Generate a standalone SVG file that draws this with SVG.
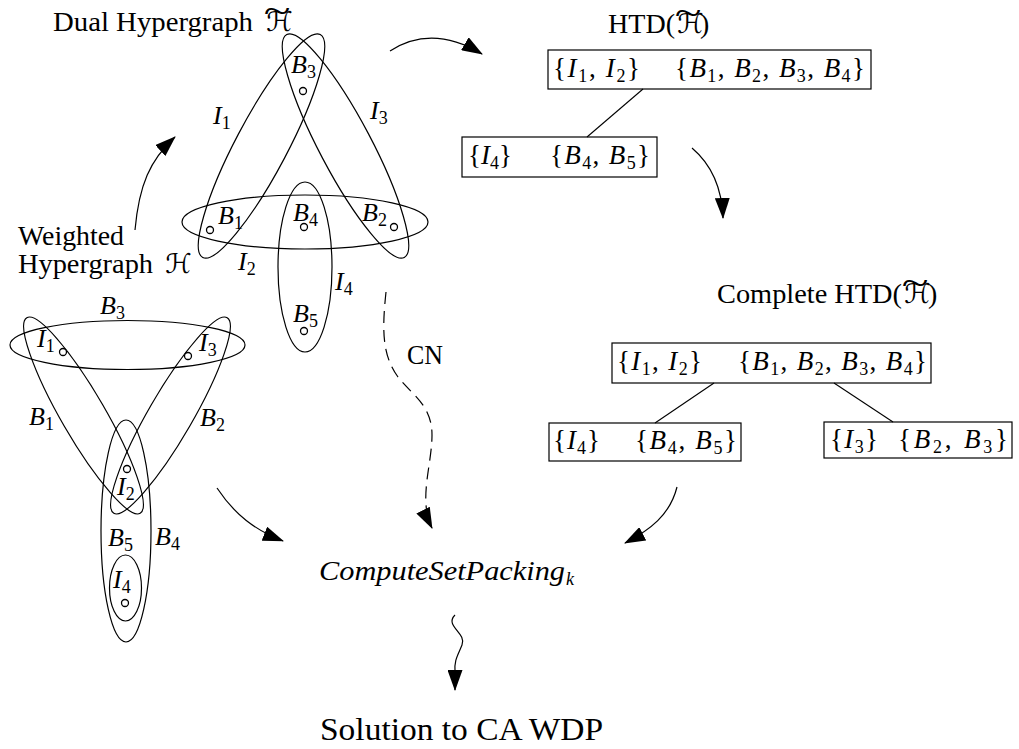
<svg xmlns="http://www.w3.org/2000/svg" xmlns:xlink="http://www.w3.org/1999/xlink" width="1019" height="749" viewBox="0 0 1019 749">
<style>
.e{fill:none;stroke:#000;stroke-width:1.2}
.t{font-family:"Liberation Serif",serif;font-size:26px;fill:#000}
.r{font-size:28px}
.b{font-size:27px}
.i{font-style:italic}
.s{font-size:18px;font-style:normal}
.cal{font-family:"DejaVu Sans",serif;font-size:27px}
.dot{fill:#fff;stroke:#000;stroke-width:1.3}
.box{fill:#fff;stroke:#000;stroke-width:1.2}
.c{fill:none;stroke:#000;stroke-width:1.2}
.dash{stroke-dasharray:12 7}
.tree{stroke:#000;stroke-width:1.1}
</style>
<defs>
<marker id="ah" markerUnits="userSpaceOnUse" markerWidth="21" markerHeight="15" viewBox="0 0 21 15" refX="20" refY="7.5" orient="auto">
<path d="M0,0 L21,7.5 L0,15 z" fill="#000"/>
</marker>
<g id="Ht">
<text class="cal" x="0" y="0">ℋ</text>
<text class="t" transform="translate(11,-8) scale(1.9,1.4)" text-anchor="middle">~</text>
</g>
</defs>

<g id="dual">
<text class="t r" x="53" y="31" textLength="200" lengthAdjust="spacingAndGlyphs">Dual Hypergraph</text>
<use xlink:href="#Ht" x="266" y="31"/>
<ellipse class="e" cx="261.5" cy="146" rx="126" ry="26" transform="rotate(-62.2 261.5 146)"/>
<ellipse class="e" cx="345.5" cy="146" rx="126" ry="26" transform="rotate(62.2 345.5 146)"/>
<ellipse class="e" cx="305" cy="222" rx="123" ry="27"/>
<ellipse class="e" cx="305" cy="267" rx="27" ry="85"/>
<text class="t" x="213" y="124"><tspan class="i">I</tspan><tspan class="s" dy="5">1</tspan></text>
<text class="t" x="370" y="119"><tspan class="i">I</tspan><tspan class="s" dy="5">3</tspan></text>
<text class="t" x="238" y="270"><tspan class="i">I</tspan><tspan class="s" dy="5">2</tspan></text>
<text class="t" x="335" y="290"><tspan class="i">I</tspan><tspan class="s" dy="5">4</tspan></text>
<text class="t" x="291" y="73"><tspan class="i">B</tspan><tspan class="s" dy="5">3</tspan></text>
<text class="t" x="218" y="224"><tspan class="i">B</tspan><tspan class="s" dy="5">1</tspan></text>
<text class="t" x="293" y="221"><tspan class="i">B</tspan><tspan class="s" dy="5">4</tspan></text>
<text class="t" x="362" y="221"><tspan class="i">B</tspan><tspan class="s" dy="5">2</tspan></text>
<text class="t" x="293" y="322"><tspan class="i">B</tspan><tspan class="s" dy="5">5</tspan></text>
<circle class="dot" cx="303" cy="91" r="3.5"/>
<circle class="dot" cx="210" cy="230" r="3.5"/>
<circle class="dot" cx="304" cy="227" r="3.5"/>
<circle class="dot" cx="394" cy="227" r="3.5"/>
<circle class="dot" cx="304" cy="331" r="3.5"/>
</g>

<g id="weighted">
<text class="t r" x="18" y="245" textLength="106" lengthAdjust="spacingAndGlyphs">Weighted</text>
<text class="t r" x="18" y="273" textLength="135" lengthAdjust="spacingAndGlyphs">Hypergraph</text>
<text class="cal" x="165" y="273">ℋ</text>
<ellipse class="e" cx="127.5" cy="345" rx="117.5" ry="24.5"/>
<ellipse class="e" cx="83.5" cy="415.5" rx="113" ry="22" transform="rotate(59.9 83.5 415.5)"/>
<ellipse class="e" cx="170.5" cy="415.5" rx="113" ry="22" transform="rotate(-59.9 170.5 415.5)"/>
<ellipse class="e" cx="126" cy="531" rx="25" ry="111"/>
<ellipse class="e" cx="125.5" cy="588" rx="16" ry="33"/>
<text class="t" x="100" y="314"><tspan class="i">B</tspan><tspan class="s" dy="5">3</tspan></text>
<text class="t" x="29" y="425"><tspan class="i">B</tspan><tspan class="s" dy="5">1</tspan></text>
<text class="t" x="200" y="426"><tspan class="i">B</tspan><tspan class="s" dy="5">2</tspan></text>
<text class="t" x="108" y="546"><tspan class="i">B</tspan><tspan class="s" dy="5">5</tspan></text>
<text class="t" x="155" y="545"><tspan class="i">B</tspan><tspan class="s" dy="5">4</tspan></text>
<text class="t" x="37" y="347"><tspan class="i">I</tspan><tspan class="s" dy="5">1</tspan></text>
<text class="t" x="199" y="351"><tspan class="i">I</tspan><tspan class="s" dy="5">3</tspan></text>
<text class="t" x="117" y="495"><tspan class="i">I</tspan><tspan class="s" dy="5">2</tspan></text>
<text class="t" x="113" y="588"><tspan class="i">I</tspan><tspan class="s" dy="5">4</tspan></text>
<circle class="dot" cx="63" cy="352" r="3.5"/>
<circle class="dot" cx="188" cy="356" r="3.5"/>
<circle class="dot" cx="127" cy="469" r="3.5"/>
<circle class="dot" cx="125" cy="603" r="3.5"/>
</g>

<g id="htd">
<text class="t r" x="608" y="33" textLength="67" lengthAdjust="spacingAndGlyphs">HTD(</text>
<use xlink:href="#Ht" x="677" y="33"/>
<text class="t r" x="700" y="33">)</text>
<g id="htd-root">
<rect class="box" x="548" y="50" width="323" height="39"/>
<text class="t b" x="553" y="77" textLength="87">{<tspan class="i">I</tspan><tspan class="s" dy="5">1</tspan><tspan dy="-5">, </tspan><tspan class="i">I</tspan><tspan class="s" dy="5">2</tspan><tspan dy="-5">}</tspan></text>
<text class="t b" x="675" y="77" textLength="190">{<tspan class="i">B</tspan><tspan class="s" dy="5">1</tspan><tspan dy="-5">, </tspan><tspan class="i">B</tspan><tspan class="s" dy="5">2</tspan><tspan dy="-5">, </tspan><tspan class="i">B</tspan><tspan class="s" dy="5">3</tspan><tspan dy="-5">, </tspan><tspan class="i">B</tspan><tspan class="s" dy="5">4</tspan><tspan dy="-5">}</tspan></text>
</g>
<g id="htd-child">
<rect class="box" x="462" y="137" width="195" height="40"/>
<text class="t b" x="468" y="164" textLength="44">{<tspan class="i">I</tspan><tspan class="s" dy="5">4</tspan><tspan dy="-5">}</tspan></text>
<text class="t b" x="550" y="164" textLength="100">{<tspan class="i">B</tspan><tspan class="s" dy="5">4</tspan><tspan dy="-5">, </tspan><tspan class="i">B</tspan><tspan class="s" dy="5">5</tspan><tspan dy="-5">}</tspan></text>
</g>
</g>

<g id="chtd">
<text class="t r" x="717" y="303" textLength="185" lengthAdjust="spacingAndGlyphs">Complete HTD(</text>
<use xlink:href="#Ht" x="904" y="303"/>
<text class="t r" x="928" y="303">)</text>
<g id="chtd-root">
<rect class="box" x="612" y="343" width="319" height="40"/>
<text class="t b" x="617" y="370" textLength="85">{<tspan class="i">I</tspan><tspan class="s" dy="5">1</tspan><tspan dy="-5">, </tspan><tspan class="i">I</tspan><tspan class="s" dy="5">2</tspan><tspan dy="-5">}</tspan></text>
<text class="t b" x="738" y="370" textLength="189">{<tspan class="i">B</tspan><tspan class="s" dy="5">1</tspan><tspan dy="-5">, </tspan><tspan class="i">B</tspan><tspan class="s" dy="5">2</tspan><tspan dy="-5">, </tspan><tspan class="i">B</tspan><tspan class="s" dy="5">3</tspan><tspan dy="-5">, </tspan><tspan class="i">B</tspan><tspan class="s" dy="5">4</tspan><tspan dy="-5">}</tspan></text>
</g>
<g id="chtd-left">
<rect class="box" x="549" y="423" width="192" height="38"/>
<text class="t b" x="553" y="449" textLength="47">{<tspan class="i">I</tspan><tspan class="s" dy="5">4</tspan><tspan dy="-5">}</tspan></text>
<text class="t b" x="635" y="449" textLength="102">{<tspan class="i">B</tspan><tspan class="s" dy="5">4</tspan><tspan dy="-5">, </tspan><tspan class="i">B</tspan><tspan class="s" dy="5">5</tspan><tspan dy="-5">}</tspan></text>
</g>
<g id="chtd-right">
<rect class="box" x="824" y="422" width="188" height="36"/>
<text class="t b" x="830" y="448" textLength="48">{<tspan class="i">I</tspan><tspan class="s" dy="5">3</tspan><tspan dy="-5">}</tspan></text>
<text class="t b" x="898" y="448" textLength="110">{<tspan class="i">B</tspan><tspan class="s" dy="5">2</tspan><tspan dy="-5">, </tspan><tspan class="i">B</tspan><tspan class="s" dy="5">3</tspan><tspan dy="-5">}</tspan></text>
</g>
</g>

<g id="compute">
<text class="t r i" x="319" y="580" textLength="246" lengthAdjust="spacingAndGlyphs">ComputeSetPacking</text>
<text class="t i" x="566" y="585" style="font-size:18px">k</text>
</g>

<g id="solution">
<text class="t" x="320" y="740" style="font-size:32px" textLength="283" lengthAdjust="spacingAndGlyphs">Solution to CA WDP</text>
</g>

<g id="connectors">
<line class="tree" x1="643" y1="89" x2="587" y2="137"/>
<line class="tree" x1="714" y1="383" x2="655" y2="423"/>
<line class="tree" x1="834" y1="383" x2="893" y2="422"/>
<path class="c" d="M135,230 C139,185 150,160 175,137" marker-end="url(#ah)"/>
<path class="c" d="M390,51 Q432,24 482,54" marker-end="url(#ah)"/>
<path class="c" d="M692,148 C712,165 722,190 723,218" marker-end="url(#ah)"/>
<path class="c" d="M217,488 C235,515 255,530 283,541" marker-end="url(#ah)"/>
<path class="c" d="M677,487 C670,515 650,530 625,543" marker-end="url(#ah)"/>
<path class="c dash" d="M386,292 C382,330 382,355 398,377 C412,395 432,405 432,435 C432,465 418,500 432,528" marker-end="url(#ah)"/>
<path class="c" d="M455,615 C444,626 467,633 462,645 C458,655 454,660 455,672 L455,690" marker-end="url(#ah)"/>
<text class="t b" x="407" y="364" textLength="36" lengthAdjust="spacingAndGlyphs">CN</text>
</g>
</svg>
